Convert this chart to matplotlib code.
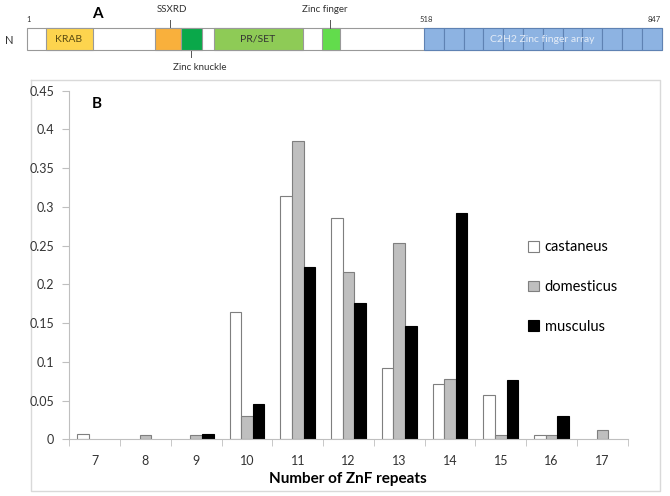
"""
ZnF repeat distribution chart with a domain sketch of the protein on top.
"""
import matplotlib
matplotlib.use('Agg')
import matplotlib.pyplot as plt
from matplotlib.patches import Rectangle
import numpy as np

W, H = 670, 496  # output size in pixels

# panel B data
repeats = [7, 8, 9, 10, 11, 12, 13, 14, 15, 16, 17]
castaneus = [0.007, 0, 0, 0.164, 0.314, 0.286, 0.092, 0.071, 0.057, 0.006, 0]
domesticus = [0, 0.006, 0.006, 0.030, 0.385, 0.216, 0.253, 0.078, 0.006, 0.006, 0.012]
musculus = [0, 0, 0.007, 0.046, 0.222, 0.176, 0.146, 0.292, 0.076, 0.030, 0]
yticks = [0, 0.05, 0.1, 0.15, 0.2, 0.25, 0.3, 0.35, 0.4, 0.45]

# panel A: domains along the bar (bar drawn in pixel units, not to scale)
domain_names = ['KRAB', 'SSXRD', 'Zinc knuckle', 'PR/SET', 'Zinc finger',
                'C2H2 Zinc finger array']
domain_start = [46, 155.3, 180.7, 214, 322, 424]
domain_end = [92.7, 180.7, 202.3, 302.7, 339.7, 661.7]
domain_colors = ['#fdd44e', '#f9b03c', '#0aa84a', '#8ecb56', '#62dc4c', '#8db3e2']
n_znf = 12
positions = ['1', '518', '847']

GRID = '#d9d9d9'
SPINE = '#bfbfbf'
TXT = '#333333'
plt.rcParams['font.family'] = ['Lato', 'DejaVu Sans']

fig = plt.figure(figsize=(W / 100, H / 100), dpi=100)

# overlay in pixel coordinates for the sketch and the chart frame
top = fig.add_axes([0, 0, 1, 1])
top.set_xlim(0, W)
top.set_ylim(H, 0)
top.axis('off')

y0, y1 = 28.3, 50
top.add_patch(Rectangle((27.3, y0), 661.7 - 27.3, y1 - y0, fc='white',
                        ec='#999999', lw=0.8))
for name, s, e, c in zip(domain_names, domain_start, domain_end, domain_colors):
    if name.startswith('C2H2'):
        cw = (e - s) / n_znf
        for i in range(n_znf):
            top.add_patch(Rectangle((s + i * cw, y0), cw, y1 - y0, fc=c,
                                    ec='#5f82b3', lw=0.8))
    else:
        top.add_patch(Rectangle((s, y0), e - s, y1 - y0, fc=c,
                                ec='#999999', lw=0.8))

top.text(69, 39.5, 'KRAB', ha='center', va='center', fontsize=7.5, color='#5a4b10')
top.text(258, 39.5, 'PR/SET', ha='center', va='center', fontsize=7.5, color='#333333')
top.text(542, 39.5, 'C2H2 Zinc finger array', ha='center', va='center',
         fontsize=7.5, color='#e4ecf7')
top.text(172, 9, 'SSXRD', ha='center', va='center', fontsize=7, color=TXT)
top.plot([170, 170], [20, 27], color='#555555', lw=0.7)
top.text(325, 10, 'Zinc finger', ha='center', va='center', fontsize=7, color=TXT)
top.plot([330, 330], [20, 28], color='#555555', lw=0.7)
top.text(200, 68, 'Zinc knuckle', ha='center', va='center', fontsize=7, color=TXT)
top.plot([191, 191], [51, 57], color='#555555', lw=0.7)
for lab, px in zip(positions, [29, 426, 654]):
    top.text(px, 19, lab, ha='center', va='center', fontsize=5.5, color=TXT)
top.text(9, 40, 'N', ha='center', va='center', fontsize=8, color=TXT)
top.text(97, 14, 'A', ha='center', va='center', fontsize=11, weight='bold')

# chart frame
top.plot([31, 660, 660, 31, 31], [80, 80, 491, 491, 80], color=GRID, lw=1)
top.text(97, 104, 'B', ha='center', va='center', fontsize=11, weight='bold')

# panel B
ax = fig.add_axes([69.3 / W, 1 - 439.3 / H, (627.7 - 69.3) / W, (439.3 - 90.7) / H])
ax.patch.set_alpha(0)
x = np.arange(len(repeats))
w = 0.228


def edge_widths(values):
    # no outline for empty bars, so nothing is drawn on the axis line
    return [0.8 if v else 0 for v in values]


ax.bar(x - w, castaneus, w, color='white', edgecolor='#7f7f7f',
       lw=edge_widths(castaneus), label='castaneus')
ax.bar(x, domesticus, w, color='#bfbfbf', edgecolor='#7f7f7f',
       lw=edge_widths(domesticus), label='domesticus')
ax.bar(x + w, musculus, w, color='black', edgecolor='black',
       lw=edge_widths(musculus), label='musculus')

ax.set_xlim(-0.5, len(repeats) - 0.5)
ax.set_ylim(0, 0.45)
ax.set_yticks(yticks, labels=[f'{v:g}' for v in yticks])
ax.set_xticks(x, labels=[str(r) for r in repeats])
ax.set_xticks(np.arange(-0.5, len(repeats)), minor=True)
ax.tick_params(axis='x', which='major', length=0, pad=11, labelsize=9,
               labelcolor=TXT)
ax.tick_params(axis='x', which='minor', length=5, color=SPINE, direction='out')
ax.tick_params(axis='y', length=5, color=SPINE, pad=6, labelsize=9,
               labelcolor=TXT)
for side in ['top', 'right']:
    ax.spines[side].set_visible(False)
for side in ['left', 'bottom']:
    ax.spines[side].set_color(SPINE)

leg = ax.legend(loc='center left', bbox_to_anchor=(528 / W, 1 - 287 / H),
                bbox_transform=fig.transFigure, frameon=False, fontsize=10.5,
                handlelength=0.75, handleheight=0.75, handletextpad=0.4,
                labelspacing=1.75, borderpad=0, borderaxespad=0)
for handle in leg.legend_handles:
    handle.set_linewidth(0.8)

fig.text(348 / W, 1 - 479 / H, 'Number of ZnF repeats', ha='center',
         va='center', fontsize=11, weight='bold')

fig.savefig('out.png', dpi=100)
